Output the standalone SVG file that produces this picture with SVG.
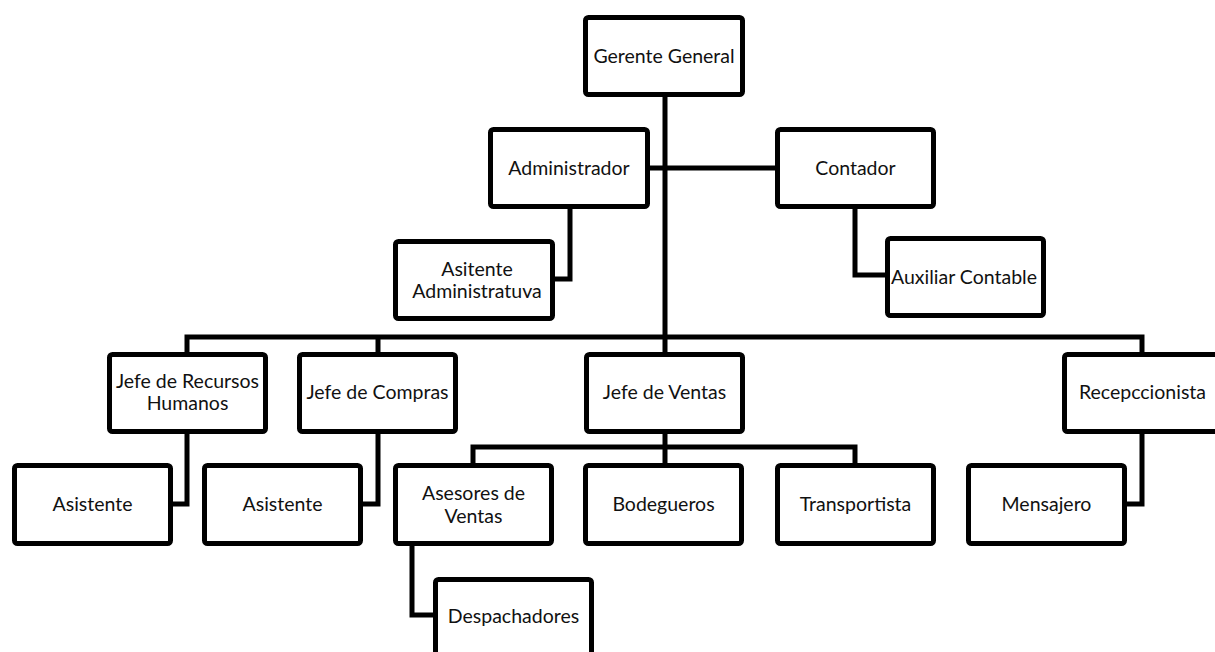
<svg xmlns="http://www.w3.org/2000/svg" width="1215" height="652" viewBox="0 0 1215 652">
<style>
.box{fill:#fff;stroke:#000;stroke-width:5;}
.t{font-family:Lato,"Open Sans","Liberation Sans",sans-serif;font-size:19.5px;fill:#111;text-anchor:middle;}
.c{fill:none;stroke:#000;stroke-width:5;stroke-linejoin:miter;}
</style>
<rect width="1215" height="652" fill="#fff"/>
<g id="connectors">
<path class="c" d="M665 95 V355"/>
<path class="c" d="M665 432 V466"/>
<path class="c" d="M648 168 H778"/>
<path class="c" d="M570 207 V279 H553"/>
<path class="c" d="M855 207 V275 H888"/>
<path class="c" d="M187 355 V337 H1142 V355"/>
<path class="c" d="M378 337 V355"/>
<path class="c" d="M187 432 V504 H171"/>
<path class="c" d="M378 432 V504 H361"/>
<path class="c" d="M473 466 V447 H855 V466"/>
<path class="c" d="M1142 432 V504 H1125"/>
<path class="c" d="M412 544 V615 H436"/>
</g>
<g id="gerente"><rect class="box" x="585.5" y="17.5" width="157" height="77" rx="3"/><text class="t" x="664" y="63">Gerente General</text></g>
<g id="administrador"><rect class="box" x="490.5" y="129.5" width="157" height="77" rx="3"/><text class="t" x="569" y="175">Administrador</text></g>
<g id="contador"><rect class="box" x="777.5" y="129.5" width="156" height="77" rx="3"/><text class="t" x="855.5" y="175">Contador</text></g>
<g id="asistente-admin"><rect class="box" x="395.5" y="241.5" width="157" height="77" rx="3"/><text class="t" x="477" y="276">Asitente</text><text class="t" x="477" y="298">Administratuva</text></g>
<g id="auxiliar"><rect class="box" x="887.5" y="238.5" width="156" height="77" rx="3"/><text class="t" x="964" y="284">Auxiliar Contable</text></g>
<g id="jefe-rrhh"><rect class="box" x="109.5" y="354.5" width="156" height="77" rx="3"/><text class="t" x="187.5" y="388">Jefe de Recursos</text><text class="t" x="187.5" y="410">Humanos</text></g>
<g id="jefe-compras"><rect class="box" x="299.5" y="354.5" width="156" height="77" rx="3"/><text class="t" x="377.5" y="399">Jefe de Compras</text></g>
<g id="jefe-ventas"><rect class="box" x="586.5" y="354.5" width="156" height="77" rx="3"/><text class="t" x="664.5" y="399">Jefe de Ventas</text></g>
<g id="recepcionista"><rect class="box" x="1064.5" y="354.5" width="156" height="77" rx="3"/><text class="t" x="1142.5" y="399">Recepccionista</text></g>
<g id="asistente-1"><rect class="box" x="14.5" y="465.5" width="156" height="78" rx="3"/><text class="t" x="92.5" y="511">Asistente</text></g>
<g id="asistente-2"><rect class="box" x="204.5" y="465.5" width="156" height="78" rx="3"/><text class="t" x="282.5" y="511">Asistente</text></g>
<g id="asesores"><rect class="box" x="395.5" y="465.5" width="156" height="78" rx="3"/><text class="t" x="473.5" y="500">Asesores de</text><text class="t" x="473.5" y="523">Ventas</text></g>
<g id="bodegueros"><rect class="box" x="585.5" y="465.5" width="156" height="78" rx="3"/><text class="t" x="663.5" y="511">Bodegueros</text></g>
<g id="transportista"><rect class="box" x="777.5" y="465.5" width="156" height="78" rx="3"/><text class="t" x="855.5" y="511">Transportista</text></g>
<g id="mensajero"><rect class="box" x="968.5" y="465.5" width="156" height="78" rx="3"/><text class="t" x="1046.5" y="511">Mensajero</text></g>
<g id="despachadores"><rect class="box" x="435.5" y="579.5" width="156" height="78" rx="3"/><text class="t" x="513.5" y="623">Despachadores</text></g>
</svg>
